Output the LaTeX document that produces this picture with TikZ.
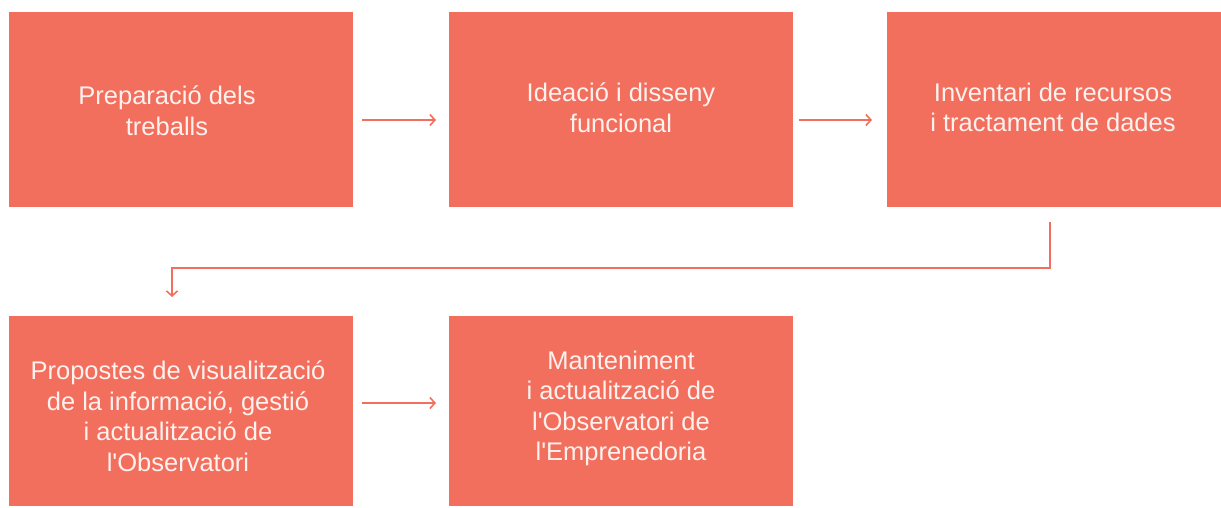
\documentclass[tikz,border=0pt]{standalone}
\usepackage{fontspec}
\setmainfont{Liberation Sans}[Ligatures=TeXOff]
\usetikzlibrary{arrows.meta}
\definecolor{boxc}{HTML}{F26F5E}
\definecolor{txtc}{HTML}{FFF1EE}
\tikzset{
  stepbox/.style={fill=boxc, draw=none, text=txtc, font=\fontsize{25.5}{30.5}\selectfont, align=center, inner sep=0pt},
  conn/.style={draw=boxc, line width=1.8pt, -{Straight Barb[length=5pt,width=11pt,line width=1.6pt]}},
}
\begin{document}
\begin{tikzpicture}[x=1pt,y=-1pt]
\useasboundingbox (0,0) rectangle (1221,507);
\node[stepbox, minimum width=344pt, minimum height=195pt] (b1) at (181,109.5) {};
\node[stepbox] (t1) at (167,110.5) {Preparació dels\\treballs};
\node[stepbox, minimum width=344pt, minimum height=195pt] (b2) at (621,109.5) {};
\node[stepbox] (t2) at (621,107.5) {Ideació i disseny\\funcional};
\node[stepbox, minimum width=334pt, minimum height=195pt] (b3) at (1054,109.5) {};
\node[stepbox] (t3) at (1053,107.5) {Inventari de recursos\\i tractament de dades};
\node[stepbox, minimum width=344pt, minimum height=190pt] (b4) at (181,411) {};
\node[stepbox] (t4) at (178,416) {Propostes de visualització\\de la informació, gestió\\i actualització de\\l'Observatori};
\node[stepbox, minimum width=344pt, minimum height=190pt] (b5) at (621,411) {};
\node[stepbox] (t5) at (621,408.5) {Manteniment\\i actualització de\\l'Observatori de\\l'Emprenedoria};
\coordinate (a1s) at (362,120); \coordinate (a1e) at (436,120);
\coordinate (a2s) at (799,120); \coordinate (a2e) at (872,120);
\coordinate (a3s) at (1050,222); \coordinate (a3m) at (1050,268); \coordinate (a3n) at (172,268); \coordinate (a3e) at (172,297);
\coordinate (a4s) at (362,403); \coordinate (a4e) at (436,403);
\draw[conn] (a1s) -- (a1e);
\draw[conn] (a2s) -- (a2e);
\draw[conn] (a3s) -- (a3m) -- (a3n) -- (a3e);
\draw[conn] (a4s) -- (a4e);
\end{tikzpicture}
\end{document}
